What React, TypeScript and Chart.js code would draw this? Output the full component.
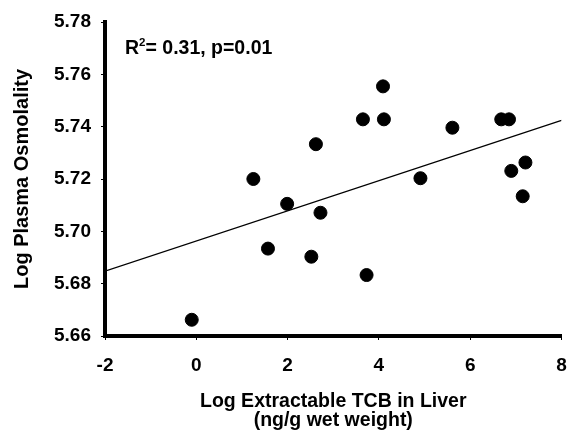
import React, { useEffect, useRef } from "react";
import { Chart, registerables } from "chart.js";

Chart.register(...registerables);

const xValues = [4.09, 3.65, 4.11, 5.61, 6.68, 6.85, 2.62, 7.21, 6.9, 4.91, 7.15, 1.99, 2.72, 1.25, 1.57, -0.1, 2.52, 3.73];
const yValues = [5.7554, 5.7428, 5.7428, 5.7396, 5.7428, 5.7428, 5.7333, 5.7263, 5.7231, 5.7203, 5.7134, 5.7105, 5.7071, 5.72, 5.6934, 5.6662, 5.6903, 5.6833];
const fitX = [-2, 8];
const fitY = [5.6848, 5.7424];
const xTicks = [-2, 0, 2, 4, 6, 8];
const yTicks = [5.66, 5.68, 5.7, 5.72, 5.74, 5.76, 5.78];
const annotation = { base: "R", sup: "2", rest: "= 0.31, p=0.01" };

const FONT = "'Liberation Sans', Arial, sans-serif";

const annotationPlugin = {
  id: "r2label",
  afterDraw(chart: any) {
    const ctx = chart.ctx;
    const x0 = chart.chartArea.left + 20;
    const y0 = 54;
    ctx.save();
    ctx.fillStyle = "#000";
    ctx.textBaseline = "alphabetic";
    ctx.textAlign = "left";
    ctx.font = `bold 19.5px ${FONT}`;
    ctx.fillText(annotation.base, x0, y0);
    let x = x0 + ctx.measureText(annotation.base).width;
    ctx.font = `bold 11.5px ${FONT}`;
    ctx.fillText(annotation.sup, x, y0 - 8);
    x += ctx.measureText(annotation.sup).width;
    ctx.font = `bold 19.5px ${FONT}`;
    ctx.fillText(annotation.rest, x, y0);
    ctx.restore();
  },
};

export default function App() {
  const ref = useRef<HTMLCanvasElement>(null);
  useEffect(() => {
    if (!ref.current) return;
    const chart = new Chart(ref.current, {
      type: "scatter",
      data: {
        datasets: [
          {
            type: "line",
            data: fitX.map((x, i) => ({ x, y: fitY[i] })),
            borderColor: "#000",
            borderWidth: 1.2,
            pointRadius: 0,
            fill: false,
          } as any,
          {
            data: xValues.map((x, i) => ({ x, y: yValues[i] })),
            backgroundColor: "#000",
            borderColor: "#000",
            pointRadius: 6.5,
            pointHoverRadius: 6.5,
          },
        ],
      },
      options: {
        animation: false,
        responsive: false,
        events: [],
        layout: { padding: { left: 0, right: 7, top: 22, bottom: 0 } },
        plugins: { legend: { display: false }, tooltip: { enabled: false } },
        scales: {
          x: {
            type: "linear",
            min: -2,
            max: 8,
            afterBuildTicks: (s: any) => {
              s.ticks = xTicks.map((v) => ({ value: v }));
            },
            afterFit: (s: any) => {
              s.height = 98;
              s.paddingLeft = 0;
              s.paddingRight = 0;
            },
            border: { display: true, color: "#000", width: 4 },
            grid: { drawOnChartArea: false, drawTicks: true, tickLength: 4, color: "#000", lineWidth: 1 },
            ticks: {
              color: "#000",
              font: { family: FONT, size: 19, weight: "bold" },
              padding: 14,
              maxRotation: 0,
              callback: (v: any) => String(v),
            },
            title: {
              display: true,
              text: ["Log Extractable TCB in Liver", "(ng/g wet weight)"],
              color: "#000",
              font: { family: FONT, size: 19.5, weight: "bold", lineHeight: 1.0 },
              padding: { top: 0, bottom: 3.5 },
            },
          },
          y: {
            type: "linear",
            min: 5.66,
            max: 5.78,
            afterBuildTicks: (s: any) => {
              s.ticks = yTicks.map((v) => ({ value: v }));
            },
            afterFit: (s: any) => {
              s.width = 105;
              s.paddingTop = 0;
              s.paddingBottom = 0;
            },
            border: { display: true, color: "#000", width: 4 },
            grid: { drawOnChartArea: false, drawTicks: true, tickLength: 4, color: "#000", lineWidth: 1 },
            ticks: {
              color: "#000",
              font: { family: FONT, size: 19, weight: "bold" },
              padding: 10,
              callback: (v: any) => Number(v).toFixed(2),
            },
            title: {
              display: true,
              text: "Log Plasma Osmolality",
              color: "#000",
              font: { family: FONT, size: 20, weight: "bold", lineHeight: 1.2 },
              padding: { top: 10, bottom: 0 },
            },
          },
        },
      },
      plugins: [annotationPlugin],
    });
    return () => chart.destroy();
  }, []);
  return (
    <div style={{ position: "fixed", left: 0, top: 0, width: 569, height: 434, background: "#fff" }}>
      <canvas ref={ref} width={569} height={434} style={{ display: "block" }} />
    </div>
  );
}
